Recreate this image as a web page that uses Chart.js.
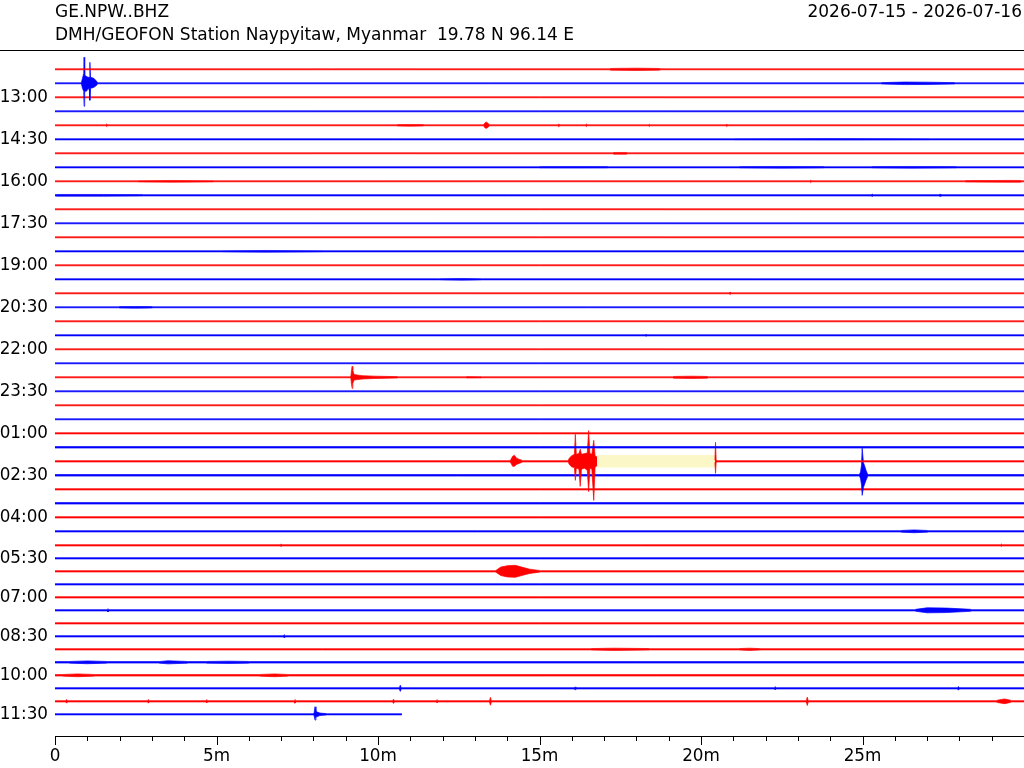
<!DOCTYPE html>
<html>
<head>
<meta charset="utf-8">
<title>GE.NPW..BHZ dayplot</title>
<script src="https://cdn.jsdelivr.net/npm/chart.js@4.4.1/dist/chart.umd.min.js"></script>
<style>
  html, body { margin: 0; padding: 0; background: #fff; }
  canvas { display: block; }
</style>
</head>
<body>
<canvas id="heli" width="1024" height="768"></canvas>
<script>
/* Helicorder (dayplot) GE.NPW..BHZ — 30 min per line */

const stationCode = 'GE.NPW..BHZ';
const stationName = 'DMH/GEOFON Station Naypyitaw, Myanmar  19.78 N 96.14 E';
const dateRange = '2026-07-15 - 2026-07-16';

const rowCount = 48;          // 12:00 .. 11:30
const rowMinutes = 30;
const lastRowEnd = 10.74;     // data stops here on the last line

const hourRows = [2, 5, 8, 11, 14, 17, 20, 23, 26, 29, 32, 35, 38, 41, 44, 47];
const hourLabels = ['13:00', '14:30', '16:00', '17:30', '19:00', '20:30', '22:00', '23:30',
                    '01:00', '02:30', '04:00', '05:30', '07:00', '08:30', '10:00', '11:30'];

const minuteTicks = [0, 1, 2, 3, 4, 5, 6, 7, 8, 9, 10, 11, 12, 13, 14,
                     15, 16, 17, 18, 19, 20, 21, 22, 23, 24, 25, 26, 27, 28, 29];

// background noise half-amplitude per line (in line spacings)
const noise = [
    0.035, 0.035, 0.035, 0.035, 0.035, 0.04, 0.035, 0.04, 0.035, 0.045,
    0.035, 0.035, 0.035, 0.04, 0.035, 0.04, 0.035, 0.035, 0.035, 0.04,
    0.035, 0.035, 0.035, 0.035, 0.035, 0.035, 0.04, 0.05, 0.045, 0.055,
    0.045, 0.05, 0.045, 0.045, 0.045, 0.045, 0.045, 0.045, 0.045, 0.045,
    0.045, 0.045, 0.045, 0.05, 0.05, 0.045, 0.045, 0.04
];

// [line, [[minute, up, down], ...]] envelope of signals above the noise
const bursts = [
    [0, [[17.2, .06, .06], [18.0, .08, .08], [18.7, .06, .06]]],
    [1, [[0.82, .07, .07], [0.85, .36, .36], [0.89, .71, .57], [0.90, 1.86, 1.64], [0.92, .57, .57],
         [0.97, .5, .57], [1.02, .43, .43], [1.06, .43, .36], [1.08, 1.5, 1.21], [1.10, .43, .36],
         [1.20, .36, .29], [1.29, .14, .14]]],
    [1, [[25.6, .05, .05], [26.3, .09, .09], [27.0, .08, .08], [27.85, .05, .05]]],
    [4, [[1.6, .09, .09]]],
    [4, [[10.6, .05, .05], [11.0, .06, .06], [11.4, .05, .05]]],
    [4, [[13.3, .15, .15], [13.35, .24, .22], [13.42, .12, .12]]],
    [4, [[15.6, .1, .1]]],
    [4, [[16.45, .09, .09]]],
    [4, [[18.4, .08, .08]]],
    [4, [[20.8, .08, .08]]],
    [5, [[21.0, .045, .045], [24.0, .055, .055], [27.1, .045, .045]]],
    [6, [[17.3, .06, .06], [17.7, .06, .06]]],
    [7, [[15.0, .05, .05], [16.0, .055, .055], [17.1, .05, .05]]],
    [7, [[21.2, .05, .05], [22.5, .06, .06], [23.8, .05, .05]]],
    [7, [[25.3, .05, .05], [26.5, .06, .06], [27.9, .05, .05]]],
    [8, [[2.6, .045, .045], [3.6, .06, .06], [4.9, .045, .045]]],
    [8, [[23.4, .08, .08]]],
    [8, [[28.2, .05, .05], [29.5, .065, .065], [29.9, .06, .06]]],
    [9, [[0.05, .06, .06], [1.5, .06, .06], [2.7, .05, .05]]],
    [9, [[25.3, .09, .09]]],
    [9, [[27.4, .09, .09]]],
    [13, [[5.2, .045, .045], [6.5, .06, .06], [8.3, .045, .045]]],
    [15, [[11.9, .045, .045], [12.6, .06, .06], [13.2, .045, .045]]],
    [16, [[20.9, .09, .09]]],
    [17, [[2.0, .05, .05], [2.5, .06, .06], [3.0, .05, .05]]],
    [19, [[18.3, .07, .07]]],
    [22, [[9.16, .07, .07], [9.18, .5, .5], [9.2, .79, .79], [9.22, .5, .43], [9.26, .2, .2],
          [9.5, .12, .12], [9.9, .08, .08], [10.6, .05, .05]]],
    [22, [[12.75, .05, .05], [13.2, .045, .045]]],
    [22, [[19.15, .06, .06], [19.7, .08, .08], [20.2, .06, .06]]],
    [28, [[14.1, .07, .07], [14.17, .36, .36], [14.22, .43, .36], [14.3, .21, .21], [14.45, .08, .08]]],
    [28, [[15.90, .11, .11], [15.93, .25, .25], [16.00, .4, .4], [16.08, .5, .45], [16.11, 1.93, 1.36],
          [16.14, .5, .5], [16.22, .55, .55], [16.26, .86, 1.79], [16.30, .5, .55], [16.40, .55, .5],
          [16.48, .6, .65], [16.52, 2.19, 2.17], [16.56, .55, .5], [16.62, .5, .55], [16.68, 1.5, 2.79],
          [16.72, .4, .45], [16.78, .3, .3]]],
    [28, [[20.43, .07, .07], [20.45, 1.36, .86], [20.47, .07, .07]]],
    [29, [[24.91, .07, .07], [24.94, .25, .25], [24.97, .75, .7], [24.99, 1.93, 1.43], [25.03, .9, .85],
          [25.07, .65, .6], [25.11, .35, .35], [25.15, .12, .12]]],
    [33, [[26.2, .06, .06], [26.6, .1, .1], [27.0, .06, .06]]],
    [34, [[7.0, .09, .09]]],
    [34, [[29.3, .09, .09]]],
    [36, [[13.65, .06, .06], [13.8, .3, .3], [14.0, .4, .4], [14.25, .43, .43], [14.45, .3, .3],
          [14.7, .15, .15], [15.0, .06, .06]]],
    [39, [[1.64, .12, .12]]],
    [39, [[26.65, .07, .07], [27.0, .18, .18], [27.6, .16, .16], [28.35, .07, .07]]],
    [41, [[7.1, .12, .12]]],
    [42, [[16.6, .055, .055], [17.3, .08, .08], [18.4, .055, .055]]],
    [42, [[21.2, .055, .055], [21.5, .08, .08], [21.8, .055, .055]]],
    [43, [[0.46, .06, .06], [1.0, .1, .1], [1.6, .06, .06]]],
    [43, [[3.25, .06, .06], [3.5, .11, .11], [4.1, .06, .06]]],
    [43, [[4.7, .06, .06], [5.4, .08, .08], [6.0, .06, .06]]],
    [44, [[0.25, .06, .06], [0.7, .1, .1], [1.2, .06, .06]]],
    [44, [[6.35, .06, .06], [6.8, .1, .1], [7.2, .06, .06]]],
    [45, [[10.69, .22, .22]]],
    [45, [[16.1, .1, .1]]],
    [45, [[22.3, .12, .12]]],
    [45, [[27.97, .13, .13]]],
    [46, [[0.36, .13, .13]]],
    [46, [[2.89, .13, .13]]],
    [46, [[4.7, .12, .12]]],
    [46, [[7.43, .13, .13]]],
    [46, [[10.48, .15, .15]]],
    [46, [[11.83, .12, .12]]],
    [46, [[13.48, .28, .28]]],
    [46, [[23.29, .3, .3]]],
    [46, [[29.17, .08, .08], [29.4, .17, .17], [29.58, .08, .08]]],
    [47, [[8.02, .07, .07], [8.05, .54, .41], [8.08, .2, .2], [8.2, .09, .09], [8.4, .05, .05]]]
];

// [line, from minute, to minute] data gaps, shaded
const gaps = [[28, 16.78, 20.43]];
const gapHalfHeight = 0.45;

const traceColors = ['#ff0000', '#0000ff'];
const gapColor = '#fbf7c6';

// lines after 05:30 sit a bit closer together on the drum
function rowLevel(r) {
    return r <= 34 ? r : 34 + (r - 34) * 13 / 14;
}

function envelope(r) {
    const base = noise[r];
    const end = r === rowCount - 1 ? lastRowEnd : rowMinutes;
    const pts = [[0, base, base]];
    bursts.filter(b => b[0] === r)
        .sort((a, b) => a[1][0][0] - b[1][0][0])
        .forEach(b => {
            const p = b[1];
            pts.push([p[0][0] - 0.03, base, base]);
            p.forEach(q => pts.push([q[0], Math.max(base, q[1]), Math.max(base, q[2])]));
            pts.push([p[p.length - 1][0] + 0.03, base, base]);
        });
    pts.push([end, base, base]);

    let out = pts;
    gaps.filter(g => g[0] === r).forEach(g => {
        const before = out.filter(p => p[0] <= g[1]);
        const after = out.filter(p => p[0] >= g[2]);
        out = before.concat([[(g[1] + g[2]) / 2, null, null]], after);
    });
    return out;
}

const datasets = [];
for (let r = 0; r < rowCount; r++) {
    const env = envelope(r);
    const lvl = rowLevel(r);
    const color = traceColors[r % 2];
    datasets.push({
        data: env.map(p => ({ x: p[0], y: p[1] === null ? null : lvl - p[1] })),
        borderColor: color,
        backgroundColor: color,
        borderWidth: 0.7,
        fill: '+1',
        pointRadius: 0,
    });
    datasets.push({
        data: env.map(p => ({ x: p[0], y: p[2] === null ? null : lvl + p[2] })),
        borderColor: color,
        borderWidth: 0.7,
        fill: false,
        pointRadius: 0,
    });
}
gaps.forEach(g => {
    const lvl = rowLevel(g[0]);
    datasets.push({
        data: [{ x: g[1], y: lvl - gapHalfHeight }, { x: g[2], y: lvl - gapHalfHeight }],
        borderWidth: 0,
        backgroundColor: gapColor,
        fill: '+1',
        pointRadius: 0,
    });
    datasets.push({
        data: [{ x: g[1], y: lvl + gapHalfHeight }, { x: g[2], y: lvl + gapHalfHeight }],
        borderWidth: 0,
        fill: false,
        pointRadius: 0,
    });
});

// ---- header texts, top rule and minute ticks ----
const decor = {
    id: 'decor',
    afterDraw(chart) {
        const { ctx, chartArea, scales } = chart;
        ctx.save();
        ctx.fillStyle = '#000';
        ctx.font = '17px "DejaVu Sans"';
        ctx.textBaseline = 'alphabetic';
        ctx.textAlign = 'left';
        ctx.fillText(stationCode, chartArea.left, 16.5);
        ctx.fillText(stationName, chartArea.left, 40);
        ctx.textAlign = 'right';
        ctx.fillText(dateRange, chart.width - 2, 16.5);

        ctx.strokeStyle = '#000';
        ctx.lineWidth = 1;
        ctx.beginPath();
        ctx.moveTo(0, chartArea.top + 0.5);
        ctx.lineTo(chart.width, chartArea.top + 0.5);
        ctx.stroke();

        ctx.beginPath();
        minuteTicks.forEach(m => {
            const x = Math.round(scales.x.getPixelForValue(m)) + 0.5;
            const len = m % 5 === 0 ? 9 : 5;
            ctx.moveTo(x, chartArea.bottom);
            ctx.lineTo(x, chartArea.bottom + len);
        });
        ctx.stroke();
        ctx.restore();
    }
};

Chart.defaults.font.family = '"DejaVu Sans", sans-serif';
Chart.defaults.font.size = 16.8;
Chart.defaults.color = '#000';

new Chart(document.getElementById('heli').getContext('2d'), {
    type: 'line',
    data: { datasets: datasets },
    options: {
        responsive: false,
        animation: false,
        events: [],
        layout: { padding: { top: 50, left: 0, right: 0, bottom: 0 } },
        elements: { line: { tension: 0 }, point: { radius: 0 } },
        plugins: {
            legend: { display: false },
            tooltip: { enabled: false },
        },
        scales: {
            x: {
                type: 'linear',
                min: 0,
                max: rowMinutes,
                grid: { display: false, drawTicks: false },
                border: { display: true, color: '#000', width: 1 },
                afterBuildTicks: s => { s.ticks = minuteTicks.map(v => ({ value: v })); },
                ticks: {
                    autoSkip: false,
                    maxRotation: 0,
                    padding: 11,
                    callback: v => v % 5 === 0 ? (v === 0 ? '0' : v + 'm') : '',
                },
                afterFit: s => { s.height = 32; },
            },
            y: {
                type: 'linear',
                reverse: true,
                min: -1.38,
                max: 47.62,
                grid: { display: false, drawTicks: false },
                border: { display: false },
                afterBuildTicks: s => { s.ticks = hourRows.map(r => ({ value: rowLevel(r) })); },
                ticks: {
                    autoSkip: false,
                    padding: 7,
                    callback: (v, i) => hourLabels[i],
                },
                afterFit: s => { s.width = 55; },
            }
        }
    },
    plugins: [decor]
});
</script>
</body>
</html>
